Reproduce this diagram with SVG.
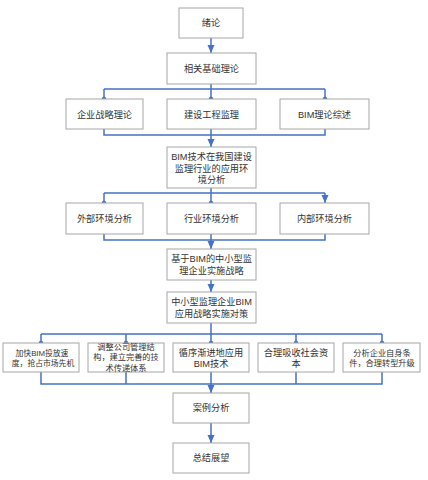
<svg xmlns="http://www.w3.org/2000/svg" width="428" height="480" viewBox="0 0 428 480">
<defs>
<marker id="arr" markerUnits="userSpaceOnUse" markerWidth="8" markerHeight="8" viewBox="0 0 8 8" refX="8" refY="4" orient="auto">
<path d="M0,0.5 L8,4 L0,7.5 Z" fill="#4472C4"/>
</marker>
<marker id="dot" markerUnits="userSpaceOnUse" markerWidth="6" markerHeight="6" viewBox="0 0 6 6" refX="3" refY="3">
<circle cx="3" cy="3" r="2.3" fill="#4472C4"/>
</marker>
</defs>
<style>
rect{fill:#fff;stroke:#a6a6a6;stroke-width:1}
text{font-family:"Liberation Sans","Noto Sans CJK SC",sans-serif;font-size:9.2px;fill:#333;text-anchor:middle;dominant-baseline:central}
.s{font-size:8.2px}
.xs{font-size:7.8px}
#connectors path{fill:none;stroke:#4472C4;stroke-width:1.5}
</style>
<rect width="428" height="480" style="fill:#fff;stroke:none"/>
<g id="connectors">
<path d="M211,38 V53" marker-end="url(#arr)"/>
<path d="M211,84 V89 M104,89 H325"/>
<path d="M104,89 V99" marker-end="url(#dot)"/>
<path d="M211,89 V99" marker-end="url(#dot)"/>
<path d="M325,89 V99" marker-end="url(#dot)"/>
<path d="M104,129 V135 H325 V129 M211,129 V135"/>
<path d="M211,135 V147" marker-end="url(#arr)"/>
<path d="M211,188 V193 M104,193 H325"/>
<path d="M104,193 V203" marker-end="url(#dot)"/>
<path d="M211,193 V203" marker-end="url(#dot)"/>
<path d="M325,193 V203" marker-end="url(#arr)"/>
<path d="M104,234 V240 H325 V234 M211,234 V240"/>
<path d="M211,240 V249" marker-end="url(#arr)"/>
<path d="M211,280 V292" marker-end="url(#arr)"/>
<path d="M211,323 V334 M41,334 H382"/>
<path d="M41,334 V343" marker-end="url(#dot)"/>
<path d="M126,334 V343" marker-end="url(#dot)"/>
<path d="M211,334 V343" marker-end="url(#dot)"/>
<path d="M296,334 V343" marker-end="url(#dot)"/>
<path d="M382,334 V343" marker-end="url(#dot)"/>
<path d="M41,372 V384 H382 V372 M126,372 V384 M211,372 V384 M296,372 V384"/>
<path d="M211,384 V393" marker-end="url(#arr)"/>
<path d="M211,423 V443" marker-end="url(#arr)"/>
</g>
<g id="n1"><rect x="179" y="8" width="64" height="30"/><text x="211" y="23">绪论</text></g>
<g id="n2"><rect x="167" y="53" width="89" height="31"/><text x="211.5" y="69">相关基础理论</text></g>
<g id="n3"><rect x="66" y="99" width="77" height="30"/><text x="104.5" y="115">企业战略理论</text></g>
<g id="n4"><rect x="167" y="99" width="89" height="30"/><text x="211.5" y="115">建设工程监理</text></g>
<g id="n5"><rect x="280" y="99" width="89" height="30"/><text x="324.5" y="115">BIM理论综述</text></g>
<g id="n6"><rect x="167" y="147" width="89" height="41"/><text x="211.5" y="157">BIM技术在我国建设</text><text x="211.5" y="168.5">监理行业的应用环</text><text x="211.5" y="180">境分析</text></g>
<g id="n7"><rect x="66" y="203" width="77" height="31"/><text x="104.5" y="219">外部环境分析</text></g>
<g id="n8"><rect x="167" y="203" width="89" height="31"/><text x="211.5" y="219">行业环境分析</text></g>
<g id="n9"><rect x="280" y="203" width="89" height="31"/><text x="324.5" y="219">内部环境分析</text></g>
<g id="n10"><rect x="167" y="249" width="89" height="31"/><text x="211.5" y="259">基于BIM的中小型监</text><text x="211.5" y="271">理企业实施战略</text></g>
<g id="n11"><rect x="167" y="292" width="89" height="31"/><text x="211.5" y="302">中小型监理企业BIM</text><text x="211.5" y="314">应用战略实施对策</text></g>
<g id="n12"><rect x="3" y="343" width="76" height="29"/><text class="xs" x="42" y="353">加快BIM投放速</text><text class="xs" x="43" y="363.5">度，抢占市场先机</text></g>
<g id="n13"><rect x="88" y="343" width="76" height="29"/><text class="s" x="126" y="347">调整公司管理结</text><text class="s" x="126" y="357.5">构，建立完善的技</text><text class="s" x="126" y="368">术传递体系</text></g>
<g id="n14"><rect x="173" y="343" width="76" height="29"/><text x="211" y="353">循序渐进地应用</text><text x="211" y="363.5">BIM技术</text></g>
<g id="n15"><rect x="258" y="343" width="76" height="29"/><text x="296" y="353">合理吸收社会资</text><text x="296" y="363.5">本</text></g>
<g id="n16"><rect x="343" y="343" width="77" height="29"/><text class="s" x="382" y="353">分析企业自身条</text><text class="s" x="382" y="363.5">件，合理转型升级</text></g>
<g id="n17"><rect x="173" y="393" width="76" height="30"/><text x="211" y="408">案例分析</text></g>
<g id="n18"><rect x="173" y="443" width="76" height="30"/><text x="211" y="458">总结展望</text></g>
</svg>
